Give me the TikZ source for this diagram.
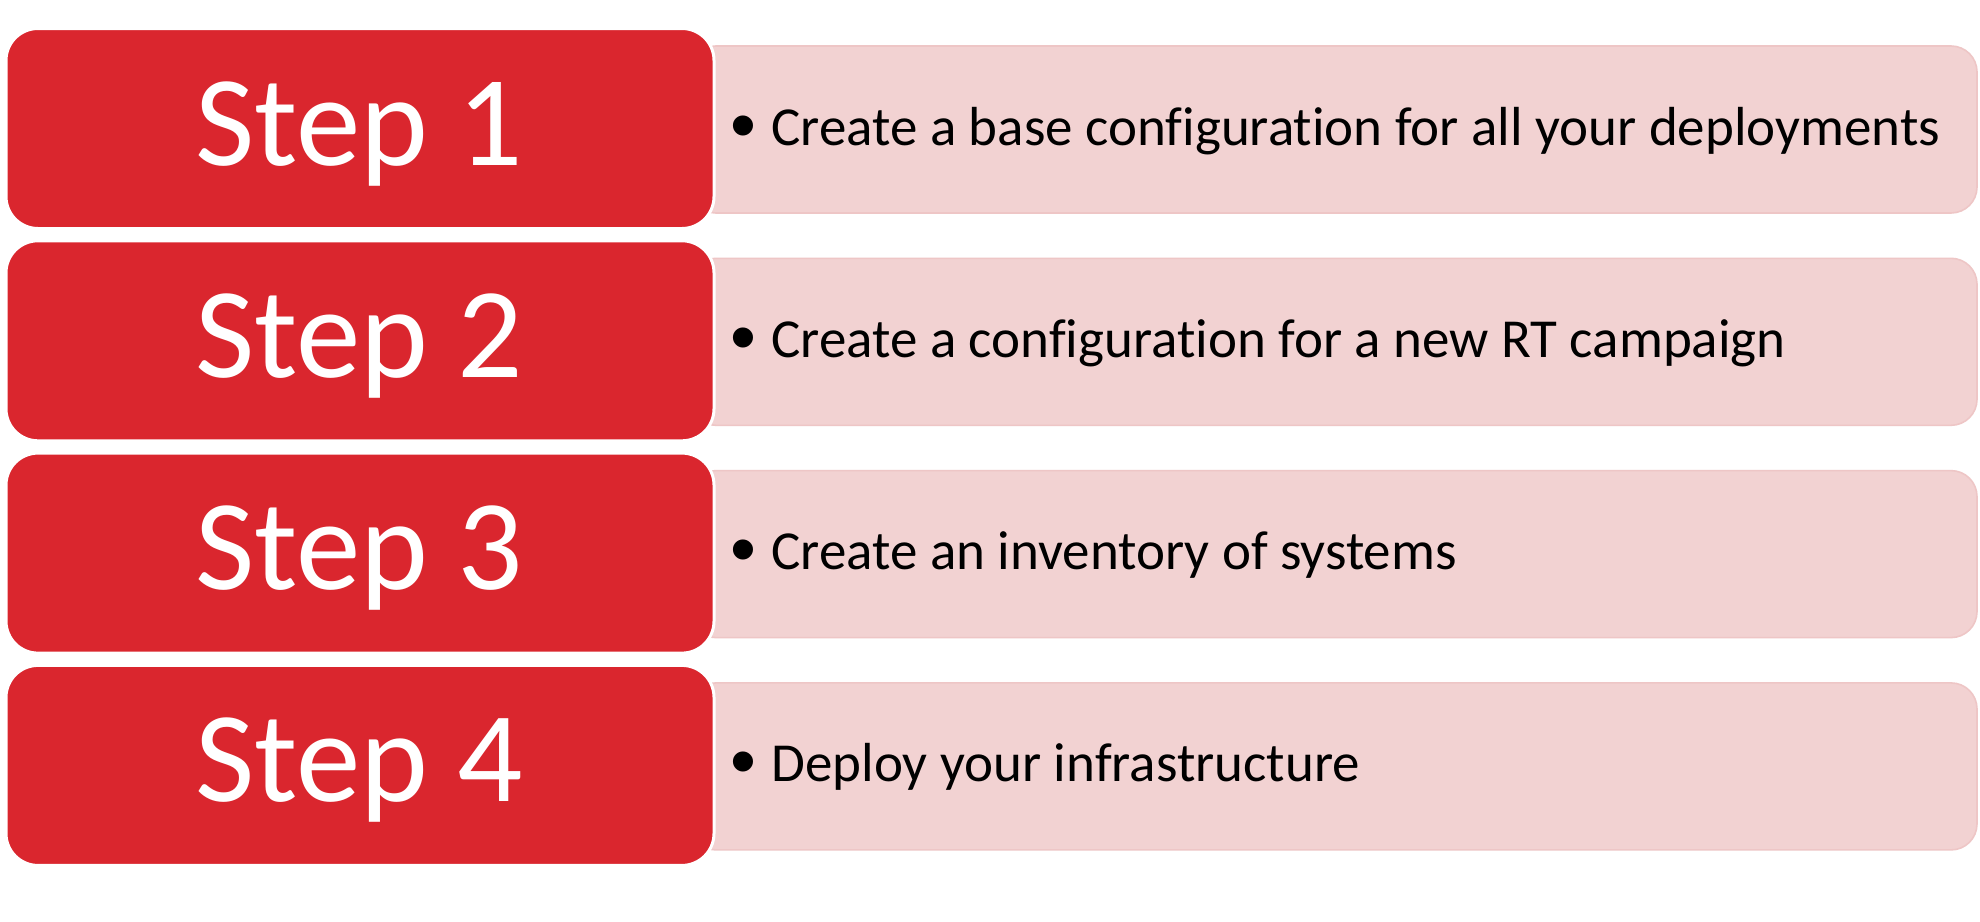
\documentclass[tikz,border=0pt]{standalone}
\usepackage{fontspec}
\setmainfont[Ligatures={NoCommon}]{Carlito}
\newfontfamily\bulletfont{Liberation Sans}
\definecolor{stepred}{HTML}{DA262E}
\definecolor{rowpink}{HTML}{F2D2D2}
\definecolor{pinkline}{HTML}{EEC6C6}
\tikzset{
  redbox/.style={draw=white, line width=1.5pt, fill=stepred, rounded corners=16pt,
    minimum width=354pt, minimum height=100pt, inner sep=0pt},
  pinkbox/.style={draw=pinkline, line width=0.8pt, fill=rowpink, rounded corners=13pt,
    minimum width=643.5pt, minimum height=83.5pt, inner sep=0pt},
  steptext/.style={text=white, font=\fontsize{64.5pt}{70pt}\selectfont, anchor=base, inner sep=0pt},
  rowtext/.style={text=black, font=\fontsize{27.5pt}{32pt}\selectfont, anchor=base west, inner sep=0pt},
  bullettext/.style={text=black, font=\bulletfont\fontsize{37pt}{40pt}\selectfont, anchor=base, inner sep=0pt}
}
\begin{document}
\begin{tikzpicture}[x=0.5pt,y=-0.5pt]
\useasboundingbox[fill=white] (0,0) rectangle (1980,921);
\foreach \i/\txt [evaluate=\i as \off using {(\i-1)*212.3}] in
  {1/Create a base configuration for all your deployments,
   2/Create a configuration for a new RT campaign,
   3/Create an inventory of systems,
   4/Deploy your infrastructure} {
  \node[pinkbox] (pink\i) at (1333.5,129.5+\off) {};
  \node[redbox] (red\i) at (360,128.5+\off) {};
  \node[steptext] (step\i) at (359,165+\off) {Step \i};
  \node[bullettext] (bul\i) at (743.5,150+\off) {\textbullet};
  \node[rowtext] (txt\i) at (771,145+\off) {\txt};
}
\end{tikzpicture}
\end{document}
